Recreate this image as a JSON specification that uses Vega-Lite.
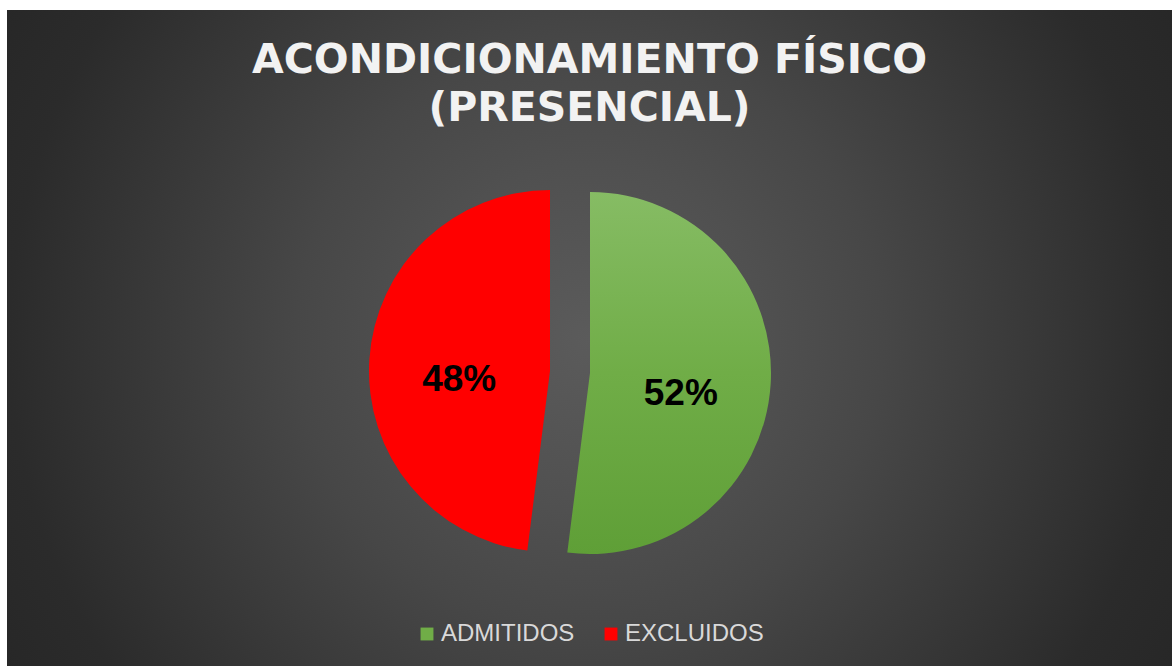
{
  "$schema": "https://vega.github.io/schema/vega-lite/v6.json",
  "width": 1172,
  "height": 666,
  "autosize": {"type": "fit", "contains": "padding"},
  "padding": {"left": 7, "top": 10, "right": 0, "bottom": 0},
  "background": "#ffffff",
  "title": {
    "text": ["ACONDICIONAMIENTO FÍSICO", "(PRESENCIAL)"],
    "font": "DejaVu Sans",
    "fontSize": 41,
    "fontWeight": "bold",
    "color": "#f2f2f2",
    "lineHeight": 48,
    "anchor": "middle",
    "frame": "group",
    "offset": -120
  },
  "data": {
    "values": [
      {"category": "ADMITIDOS", "share": 0.52},
      {"category": "EXCLUIDOS", "share": 0.48}
    ]
  },
  "layer": [
    {
      "data": {"values": [{"panel": "background"}]},
      "mark": {
        "type": "rect",
        "fill": {
          "gradient": "radial",
          "x1": 0.5, "y1": 0.5, "r1": 0,
          "x2": 0.5, "y2": 0.5, "r2": 0.6,
          "stops": [
            {"offset": 0, "color": "#5b5b5b"},
            {"offset": 0.25, "color": "#505050"},
            {"offset": 0.42, "color": "#474747"},
            {"offset": 0.83, "color": "#2b2b2b"},
            {"offset": 1, "color": "#262626"}
          ]
        }
      },
      "encoding": {}
    },
    {
      "transform": [
        {"stack": "share", "groupby": [], "sort": [{"field": "category", "order": "ascending"}], "as": ["s0", "s1"]},
        {"filter": "datum.category === 'ADMITIDOS'"}
      ],
      "mark": {
        "type": "arc",
        "outerRadius": 181,
        "xOffset": 0.5,
        "yOffset": 35,
        "fill": {
          "gradient": "linear",
          "x1": 0, "y1": 0, "x2": 0, "y2": 1,
          "stops": [
            {"offset": 0, "color": "#86bc64"},
            {"offset": 0.5, "color": "#70ad47"},
            {"offset": 1, "color": "#5f9f37"}
          ]
        }
      },
      "encoding": {
        "theta": {"field": "s0", "type": "quantitative", "scale": {"domain": [0, 1]}},
        "theta2": {"field": "s1"}
      }
    },
    {
      "transform": [
        {"stack": "share", "groupby": [], "sort": [{"field": "category", "order": "ascending"}], "as": ["s0", "s1"]},
        {"filter": "datum.category === 'EXCLUIDOS'"}
      ],
      "mark": {"type": "arc", "outerRadius": 181, "xOffset": -39.5, "yOffset": 33},
      "encoding": {
        "theta": {"field": "s0", "type": "quantitative", "scale": {"domain": [0, 1]}},
        "theta2": {"field": "s1"},
        "color": {
          "field": "category",
          "type": "nominal",
          "scale": {"domain": ["ADMITIDOS", "EXCLUIDOS"], "range": ["#70ad47", "#ff0000"]},
          "legend": {"title": null}
        }
      }
    },
    {
      "mark": {
        "type": "text",
        "radius": 111,
        "xOffset": -19.5,
        "yOffset": 49,
        "font": "Liberation Sans",
        "fontWeight": "bold",
        "fontSize": 37,
        "fill": "#000000",
        "baseline": "middle",
        "align": "center"
      },
      "encoding": {
        "theta": {"field": "share", "type": "quantitative", "stack": true, "scale": {"domain": [0, 1]}},
        "detail": {"field": "category", "type": "nominal"},
        "order": {"field": "category", "type": "nominal", "sort": "ascending"},
        "text": {"field": "share", "type": "quantitative", "format": ".0%"}
      }
    }
  ],
  "config": {
    "view": {"stroke": null},
    "legend": {
      "orient": "bottom",
      "direction": "horizontal",
      "offset": -44,
      "symbolType": "square",
      "symbolSize": 166,
      "symbolStrokeWidth": 0,
      "labelFont": "Liberation Sans",
      "labelFontSize": 24,
      "labelColor": "#d9d9d9",
      "labelOffset": 2,
      "columnPadding": 24,
      "layout": {"bottom": {"anchor": "middle"}}
    }
  }
}
